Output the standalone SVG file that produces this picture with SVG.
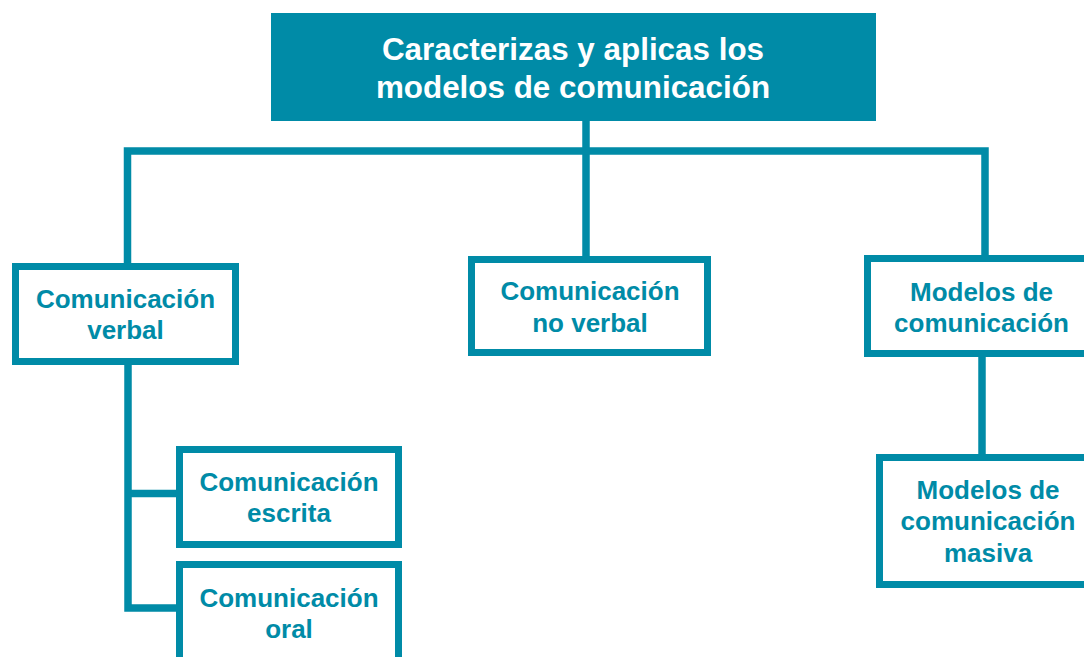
<svg xmlns="http://www.w3.org/2000/svg" width="1084" height="657" viewBox="0 0 1084 657">
<style>
.box{fill:#ffffff;stroke:#008ba7;stroke-width:7}
.con{fill:none;stroke:#008ba7;stroke-width:7.5;stroke-linecap:butt;stroke-linejoin:miter}
.t{font-family:"Liberation Sans",Arial,sans-serif;font-weight:bold;font-size:26px;fill:#008ba7;text-anchor:middle}
.title{font-family:"Liberation Sans",Arial,sans-serif;font-weight:bold;font-size:31.4px;fill:#ffffff;text-anchor:middle}
</style>
<rect width="1084" height="657" fill="#ffffff"/>
<g id="connectors">
<path class="con" d="M586 121 V258"/>
<path class="con" d="M127.5 263 V151 H985 V257"/>
<path class="con" d="M982 357 V455"/>
<path class="con" d="M128 365 V608 H178"/>
<path class="con" d="M128 493.5 H178"/>
</g>
<g id="title">
<rect x="271" y="13" width="605" height="108" fill="#008ba7"/>
<text class="title" x="573" y="60">Caracterizas y aplicas los</text>
<text class="title" x="573" y="98">modelos de comunicación</text>
</g>
<g id="verbal">
<rect class="box" x="15.5" y="266.5" width="220" height="95"/>
<text class="t" x="125.5" y="308">Comunicación</text>
<text class="t" x="125.5" y="339">verbal</text>
</g>
<g id="noverbal">
<rect class="box" x="471.5" y="259.5" width="236" height="93"/>
<text class="t" x="590" y="300">Comunicación</text>
<text class="t" x="590" y="331.5">no verbal</text>
</g>
<g id="modelos">
<rect class="box" x="867.5" y="258.5" width="230" height="95"/>
<text class="t" x="981.5" y="300.5">Modelos de</text>
<text class="t" x="981.5" y="331.5">comunicación</text>
</g>
<g id="escrita">
<rect class="box" x="179.5" y="449.5" width="219" height="95"/>
<text class="t" x="289" y="490.5">Comunicación</text>
<text class="t" x="289" y="521.5">escrita</text>
</g>
<g id="oral">
<rect class="box" x="179.5" y="564.5" width="219" height="100"/>
<text class="t" x="289" y="607">Comunicación</text>
<text class="t" x="289" y="637.5">oral</text>
</g>
<g id="masiva">
<rect class="box" x="879.5" y="457.5" width="220" height="127"/>
<text class="t" x="988" y="499">Modelos de</text>
<text class="t" x="988" y="530">comunicación</text>
<text class="t" x="988" y="561.5">masiva</text>
</g>
</svg>
